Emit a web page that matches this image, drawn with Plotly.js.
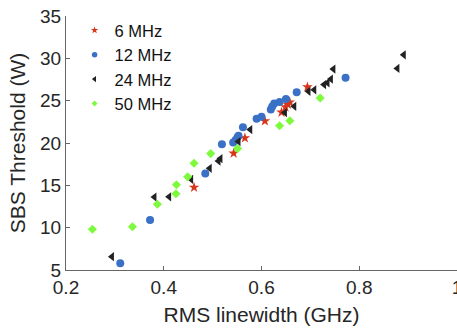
<!DOCTYPE html>
<html>
<head>
<meta charset="utf-8">
<script src="https://cdn.plot.ly/plotly-3.0.1.min.js"></script>
<style>
  html, body { margin: 0; padding: 0; background: #fff; }
  #chart { width: 457px; height: 331px; }
</style>
</head>
<body>
<div id="chart"></div>
<script>
// 6 MHz
const x6 = [0.462, 0.543, 0.566, 0.607, 0.641, 0.649, 0.654, 0.658, 0.694];
const y6 = [14.76, 18.78, 20.58, 22.59, 23.62, 24.24, 24.54, 24.83, 26.61];
// 12 MHz
const x12 = [0.311, 0.372, 0.485, 0.519, 0.542, 0.547, 0.551, 0.553, 0.562, 0.590, 0.600, 0.619, 0.622, 0.626, 0.637, 0.650, 0.672, 0.772];
const y12 = [5.79, 10.90, 16.39, 19.85, 20.05, 20.35, 20.67, 20.86, 21.85, 22.86, 23.10, 23.97, 24.30, 24.68, 24.83, 25.19, 25.98, 27.70];
// 24 MHz
const x24 = [0.294, 0.381, 0.411, 0.456, 0.494, 0.512, 0.516, 0.553, 0.577, 0.648, 0.667, 0.696, 0.708, 0.728, 0.735, 0.742, 0.747, 0.878, 0.891];
const y24 = [6.57, 13.62, 13.65, 15.71, 17.01, 17.87, 18.16, 20.17, 21.59, 23.60, 24.33, 26.10, 26.28, 26.90, 27.11, 27.55, 28.73, 28.81, 30.42];
// 50 MHz
const x50 = [0.254, 0.336, 0.387, 0.425, 0.426, 0.449, 0.462, 0.496, 0.551, 0.637, 0.658, 0.720];
const y50 = [9.81, 10.11, 12.76, 14.01, 15.07, 16.00, 17.60, 18.75, 19.34, 22.04, 22.63, 25.31];

const seriesNames = ['6 MHz', '12 MHz', '24 MHz', '50 MHz'];
const xTicks = [0.2, 0.4, 0.6, 0.8, 1.0];
const xTickText = ['0.2', '0.4', '0.6', '0.8', '1'];
const yTicks = [5, 10, 15, 20, 25, 30, 35];

const FONT = 'Liberation Sans, Arial, sans-serif';
const styles = [
  {symbol: 'star', size: 8, color: '#D8361A'},
  {symbol: 'circle', size: 8, color: '#3A70C6'},
  {symbol: 'triangle-left', size: 8, color: '#222222'},
  {symbol: 'diamond', size: 7, color: '#7DFA3C'}
];
const xs = [x6, x12, x24, x50];
const ys = [y6, y12, y24, y50];

const traces = [];
// data traces
for (let i = 0; i < 4; i++) {
  traces.push({x: xs[i], y: ys[i], name: seriesNames[i], mode: 'markers', type: 'scatter',
    showlegend: false, marker: Object.assign({}, styles[i])});
}
// legend-only entries with smaller symbols (as in the reference legend)
for (let i = 0; i < 4; i++) {
  traces.push({x: [null], y: [null], name: seriesNames[i], mode: 'markers', type: 'scatter',
    showlegend: true, marker: Object.assign({}, styles[i], {size: styles[i].size - 2.5})});
}

const axisCommon = {
  showline: true, linecolor: '#666', linewidth: 1,
  ticks: 'inside', ticklen: 4, tickcolor: '#666',
  showgrid: false, zeroline: false, automargin: false,
  ticklabeloverflow: 'allow',
  tickfont: {family: FONT, size: 19, color: '#262626'}
};

const layout = {
  width: 457, height: 331,
  margin: {l: 65.5, r: 0, t: 16, b: 61},
  paper_bgcolor: '#fff', plot_bgcolor: '#fff',
  showlegend: true,
  legend: {x: 0.022, y: 1.012, xanchor: 'left', yanchor: 'top',
           font: {family: FONT, size: 16.5, color: '#111'},
           bgcolor: 'rgba(0,0,0,0)', borderwidth: 0, tracegroupgap: 0},
  xaxis: Object.assign({}, axisCommon, {
    range: [0.2, 1.0], tickvals: xTicks, ticktext: xTickText,
    title: {text: 'RMS linewidth (GHz)', font: {family: FONT, size: 21, color: '#262626'}, standoff: 10}
  }),
  yaxis: Object.assign({}, axisCommon, {
    range: [5, 35], tickvals: yTicks,
    title: {text: 'SBS Threshold (W)', font: {family: FONT, size: 21, color: '#262626'}, standoff: 8}
  })
};

Plotly.newPlot('chart', traces, layout, {staticPlot: true, displayModeBar: false});
</script>
</body>
</html>
